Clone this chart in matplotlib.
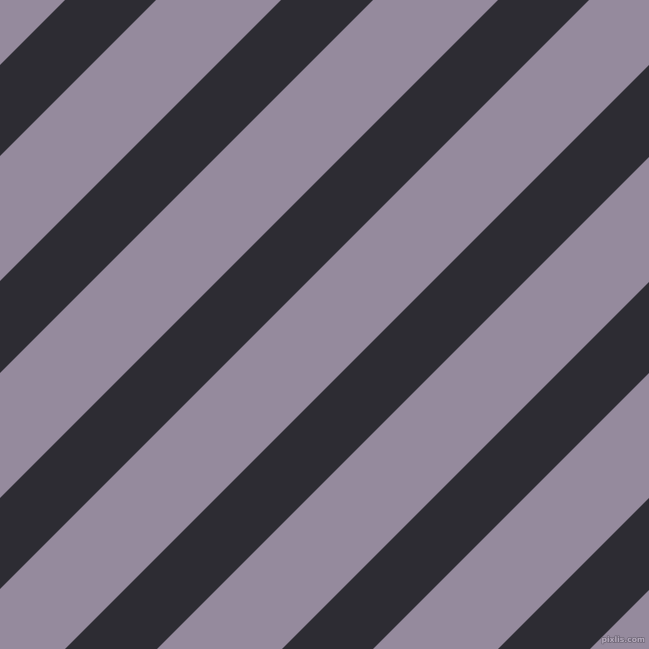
import matplotlib
matplotlib.use('Agg')
import matplotlib.pyplot as plt
import matplotlib.patheffects as pe

# franjas oscuras: rango de x+y (en pixeles) donde empieza y termina cada una
band_start = [65, 281, 498, 714, 931, 1147]
band_end = [156, 373, 589, 806, 1022, 1239]
size = 649
light = '#958a9d'
dark = '#2d2c33'

fig = plt.figure(figsize=(6.49, 6.49), dpi=100)
ax = fig.add_axes([0, 0, 1, 1])
ax.set_facecolor(light)
ax.set_xlim(0, size)
ax.set_ylim(size, 0)
ax.axis('off')
fig.patch.set_facecolor(light)

for a, b in zip(band_start, band_end):
    # banda entre x+y=a y x+y=b
    xs = [a, b, b - 2 * size, a - 2 * size]
    ys = [0, 0, 2 * size, 2 * size]
    ax.fill(xs, ys, color=dark, lw=0, antialiased=True)

txt = ax.text(645, 644, 'pixlis.com', fontsize=5.5, color='#b3a9ba',
              ha='right', va='bottom', fontweight='bold')
txt.set_path_effects([pe.withStroke(linewidth=1, foreground='#6e6676')])

fig.savefig('out.png', dpi=100, facecolor=light)
